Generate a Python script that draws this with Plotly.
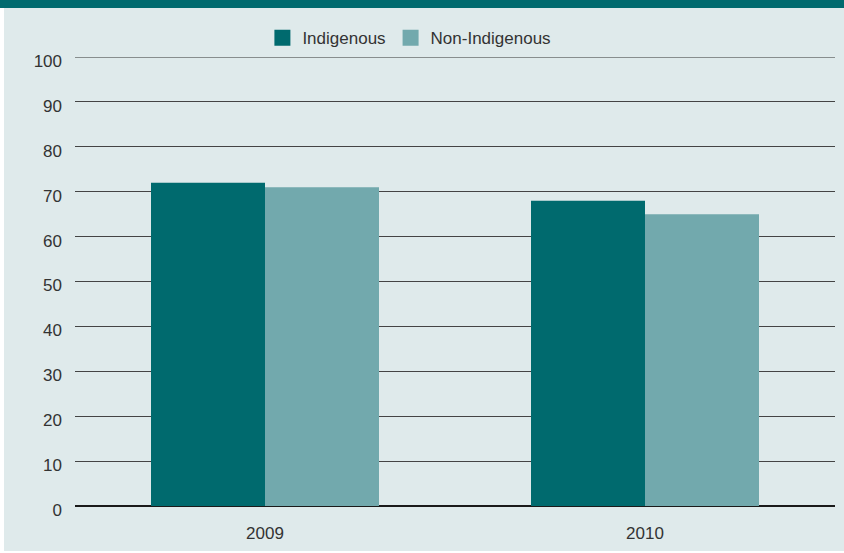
import plotly.graph_objects as go

years = ["2009", "2010"]
indigenous = [72, 68]
non_indigenous = [71, 65]

dark = "#006a6e"
light = "#72a9ad"
panel = "#dfeaeb"
font = "Liberation Sans, Arial, sans-serif"

fig = go.Figure()
fig.add_trace(go.Bar(x=years, y=indigenous, name="Indigenous", showlegend=False,
                     marker=dict(color=dark, line_width=0)))
fig.add_trace(go.Bar(x=years, y=non_indigenous, name="Non-Indigenous", showlegend=False,
                     marker=dict(color=light, line_width=0)))
# legend entries with big square swatches
for name, col in [("Indigenous", dark), ("Non-Indigenous", light)]:
    fig.add_trace(go.Scatter(x=[None], y=[None], mode="markers", name=name,
                             marker=dict(symbol="square", size=17, color=col)))

# white strip on the left, dark band across the top
fig.add_shape(type="rect", xref="paper", yref="paper", x0=-0.2, x1=-0.0934, y0=-0.2, y1=1.2,
              fillcolor="white", line_width=0, layer="below")
fig.add_shape(type="rect", xref="paper", yref="paper", x0=-0.2, x1=1.1, y0=1.109, y1=1.2,
              fillcolor=dark, line_width=0, layer="below")
fig.add_shape(type="rect", xref="paper", yref="paper", x0=-0.2, x1=1.1, y0=-0.2, y1=-0.1002,
              fillcolor="white", line_width=0, layer="below")
# top gridline at 100
fig.add_shape(type="line", xref="paper", yref="y", x0=0, x1=1, y0=100, y1=100,
              line=dict(color="#333333", width=1), layer="below")

fig.update_layout(
    width=844, height=553,
    margin=dict(l=75, r=9, t=57, b=47, autoexpand=False),
    paper_bgcolor=panel, plot_bgcolor=panel,
    barmode="group", bargap=0.4, bargroupgap=0,
    font=dict(family=font, size=17, color="#333333"),
    legend=dict(orientation="h", x=0.44, xanchor="center", y=1.042, yanchor="middle",
                bgcolor="rgba(0,0,0,0)", font=dict(size=17), itemwidth=30,
                traceorder="normal", itemsizing="trace"),
    showlegend=True,
)
fig.update_yaxes(range=[0, 100], dtick=10, showgrid=True, gridcolor="#444444", gridwidth=1,
                 zeroline=True, zerolinecolor="#1a1a1a", zerolinewidth=2, automargin=False,
                 ticks="", ticklabelstandoff=12, ticklabelshift=4, showline=False,
                 fixedrange=True)
fig.update_xaxes(showgrid=False, showline=False, ticks="", ticklabelstandoff=15, automargin=False)

fig.write_html("out.html", config={"displayModeBar": False},
               post_script="document.body.style.margin='0';")
